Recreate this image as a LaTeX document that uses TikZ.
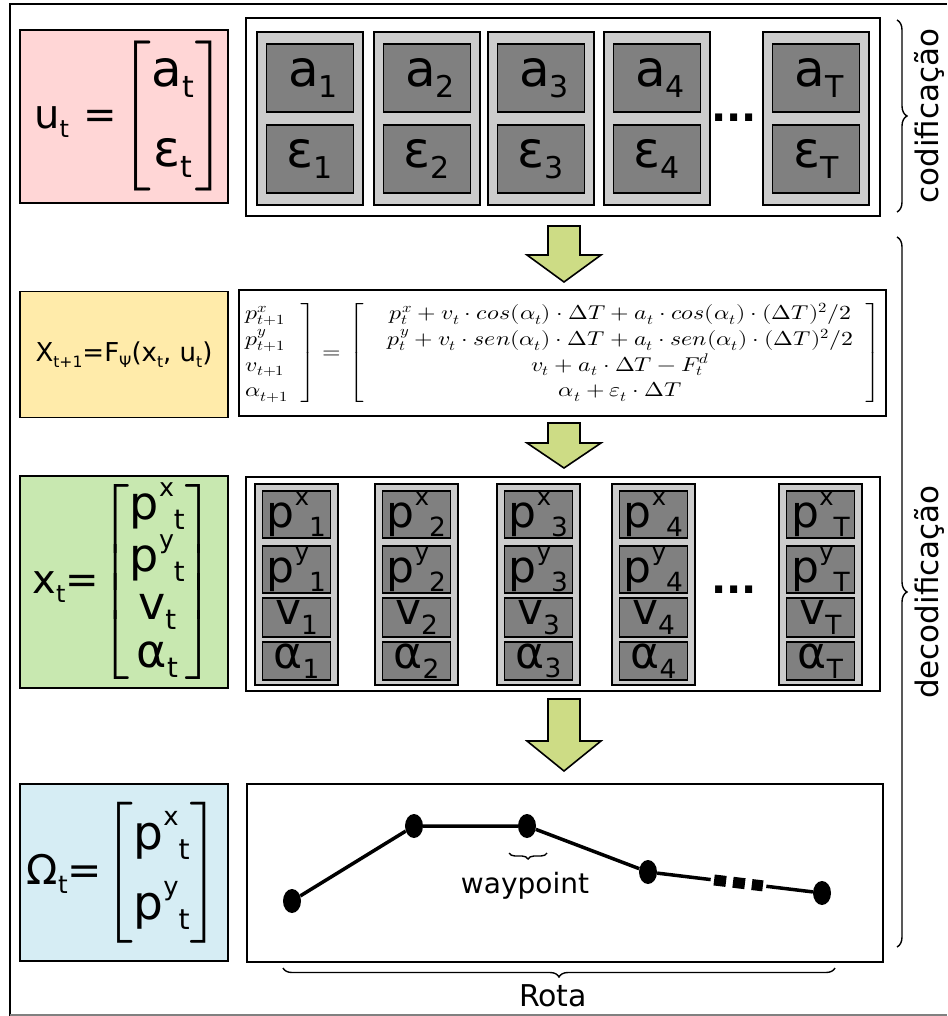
\documentclass[tikz,border=0pt]{standalone}
\usepackage{amsmath}
\usepackage{fontspec}
\usepackage{unicode-math}
\usepackage{graphicx}
\setmainfont{DejaVu Sans}
\usetikzlibrary{decorations.pathreplacing,shapes.geometric,calc}

\definecolor{pinkbox}{RGB}{255,214,214}
\definecolor{yellowbox}{RGB}{255,235,170}
\definecolor{greenbox}{RGB}{200,232,176}
\definecolor{bluebox}{RGB}{214,237,244}
\definecolor{arrowfill}{RGB}{205,220,133}
\definecolor{colgray}{RGB}{204,204,204}
\definecolor{cellgray}{RGB}{128,128,128}

\newcommand{\fs}[1]{\fontsize{#1}{#1}\selectfont}
\newcommand{\lsub}[1]{\raisebox{-0.22em}{\scalebox{0.6}{#1}}}
\newcommand{\lsup}[1]{\raisebox{0.5em}{\scalebox{0.55}{#1}}}

\tikzset{
  frame/.style={draw, line width=2pt},
  labelbox/.style={draw, line width=1.8pt, minimum width=208, minimum height=#1, inner sep=0pt},
  colbox/.style={draw, fill=colgray, line width=1.6pt},
  cell/.style={draw, fill=cellgray, line width=1.6pt, inner sep=0pt},
  flowarrow/.style={draw, fill=arrowfill, line width=1.6pt, line join=miter},
  bracebar/.style={decorate, decoration={brace, amplitude=#1}, line width=1.4pt},
  wp/.style={ellipse, fill=black, minimum width=18, minimum height=24, inner sep=0pt},
  route/.style={line width=3.5pt}
}

\begin{document}
\begin{tikzpicture}[x=1pt, y=-1pt]
\useasboundingbox (0,0) rectangle (947,1016);
% outer frame
\draw[line width=2pt] (10,1016) -- (10,4) -- (947,4);
\draw[line width=1.5pt, gray] (10,1015) -- (947,1015);

% codificacao: u_t
\node[labelbox=173, fill=pinkbox] (ubox) at (124,116.5)
  {\hspace{14pt}\fs{40}u\lsub{t}\hspace{14pt}=\hspace{2pt}\fs{50}$\left[\begin{tabular}{@{}c@{}}a\lsub{t}\\[30pt]ε\lsub{t}\end{tabular}\right]$};
\draw[frame, fill=white] (246,18) rectangle (880,216);
\foreach \x/\k in {257/1,374/2,488/3,604/4,763/T}{
  \draw[colbox] (\x,32) rectangle ++(106,173);
  \node[cell, minimum width=87, minimum height=68] (a\k) at (\x+53,78) {\fs{50}\hspace{6pt}a\lsub{\k}};
  \node[cell, minimum width=87, minimum height=68] (e\k) at (\x+53,159) {\fs{50}ε\lsub{\k}};
}
\node[inner sep=0pt] (dotsu) at (734,118) {\fs{40}\bfseries ...};

% arrows
\foreach \yt/\yb/\h in {226/282/27, 423/468/25, 699/771/30}{
  \draw[flowarrow] (548,\yt) -- (580,\yt) -- (580,\yb-\h) -- (601,\yb-\h)
    -- (564,\yb) -- (527,\yb-\h) -- (548,\yb-\h) -- cycle;
}

% modelo
\node[labelbox=126, fill=yellowbox] (fbox) at (124,354.5)
  {\fs{26}X\lsub{t+1}=F\lsub{Ψ}(x\lsub{t}, u\lsub{t})};
\node[frame, fill=white, minimum width=647, minimum height=126, inner sep=0pt] (model) at (562.5,353)
  {\fontsize{20}{23}\selectfont\renewcommand{\arraystretch}{1.12}\scalebox{1.19}[1]{$\left.\begin{array}{@{}l@{}}
    p^x_{t+1}\\ p^y_{t+1}\\ v_{t+1}\\ \alpha_{t+1}
  \end{array}\enspace\right] = \left[\quad\begin{array}{@{}c@{}}
    p^x_t+v_t\cdot cos(\alpha_t)\cdot\Delta T+a_t\cdot cos(\alpha_t)\cdot(\Delta T)^2/2\\
    p^y_t+v_t\cdot sen(\alpha_t)\cdot\Delta T+a_t\cdot sen(\alpha_t)\cdot(\Delta T)^2/2\\
    v_t+a_t\cdot\Delta T-F^d_t\\
    \alpha_t+\varepsilon_t\cdot\Delta T
  \end{array}\enspace\right]$}};

% estados x_t
\node[labelbox=212, fill=greenbox] (xbox) at (124,582)
  {\fs{40}x\lsub{t}=\fs{46}$\left[\begin{tabular}{@{}c@{}}p\lsup{x}\lsub{t}\\[2pt]p\lsup{y}\lsub{t}\\[2pt]v\lsub{t}\\[2pt]α\lsub{t}\end{tabular}\right]$};
\draw[frame, fill=white] (246,477) rectangle (880,691);
\foreach \x/\k in {255/1,375/2,497/3,612/4,779/T}{
  \draw[colbox] (\x,484) rectangle ++(83,201);
  \node[cell, minimum width=68, minimum height=47] (px\k) at (\x+41.5,514.5) {\fs{44}p\lsup{x}\lsub{\k}};
  \node[cell, minimum width=68, minimum height=47] (py\k) at (\x+41.5,569.5) {\fs{44}p\lsup{y}\lsub{\k}};
  \node[cell, minimum width=68, minimum height=39] (v\k) at (\x+41.5,617.5) {\fs{44}v\lsub{\k}};
  \node[cell, minimum width=68, minimum height=38] (al\k) at (\x+41.5,661) {\fs{44}α\lsub{\k}};
}
\node[inner sep=0pt] (dotsx) at (734,590) {\fs{40}\bfseries ...};

% rota Omega_t
\node[labelbox=177, fill=bluebox] (obox) at (124,872.5)
  {\fs{41}Ω\lsub{t}=\fs{47}$\left[\begin{tabular}{@{}c@{}}p\lsup{x}\lsub{t}\\[18pt]p\lsup{y}\lsub{t}\end{tabular}\right]$};
\draw[frame, fill=white] (247,784) rectangle (883,962);
\node[wp] (w1) at (292,901) {};
\node[wp] (w2) at (414,826) {};
\node[wp] (w3) at (527,826) {};
\node[wp] (w4) at (648,872) {};
\node[wp] (w5) at (822,893) {};
\coordinate (r1) at ($(w4)!0.36!(w5)$);
\coordinate (r2) at ($(w4)!0.38!(w5)$);
\coordinate (r3) at ($(w4)!0.66!(w5)$);
\coordinate (r4) at ($(w4)!0.68!(w5)$);
\draw[route] (w1) -- (w2) -- (w3) -- (w4) -- (r1);
\draw[line width=11pt, dash pattern=on 12pt off 7pt] (r2) -- (r3);
\draw[route] (r4) -- (w5);
\draw[bracebar=6] (547,853) -- (509,853);
\node (wlabel) at (525,886) {\fs{28}waypoint};

% chaves
\draw[bracebar=9] (835,968) -- (283,968);
\node (rlabel) at (553,996) {\fs{30}Rota};
\draw[bracebar=10] (897,20) -- (897,212);
\node[rotate=90] (clabel) at (929,116) {\fs{31}codificação};
\draw[bracebar=10] (897,237) -- (897,947);
\node[rotate=90] (dlabel) at (929,592) {\fs{31}decodificação};
\end{tikzpicture}
\end{document}
